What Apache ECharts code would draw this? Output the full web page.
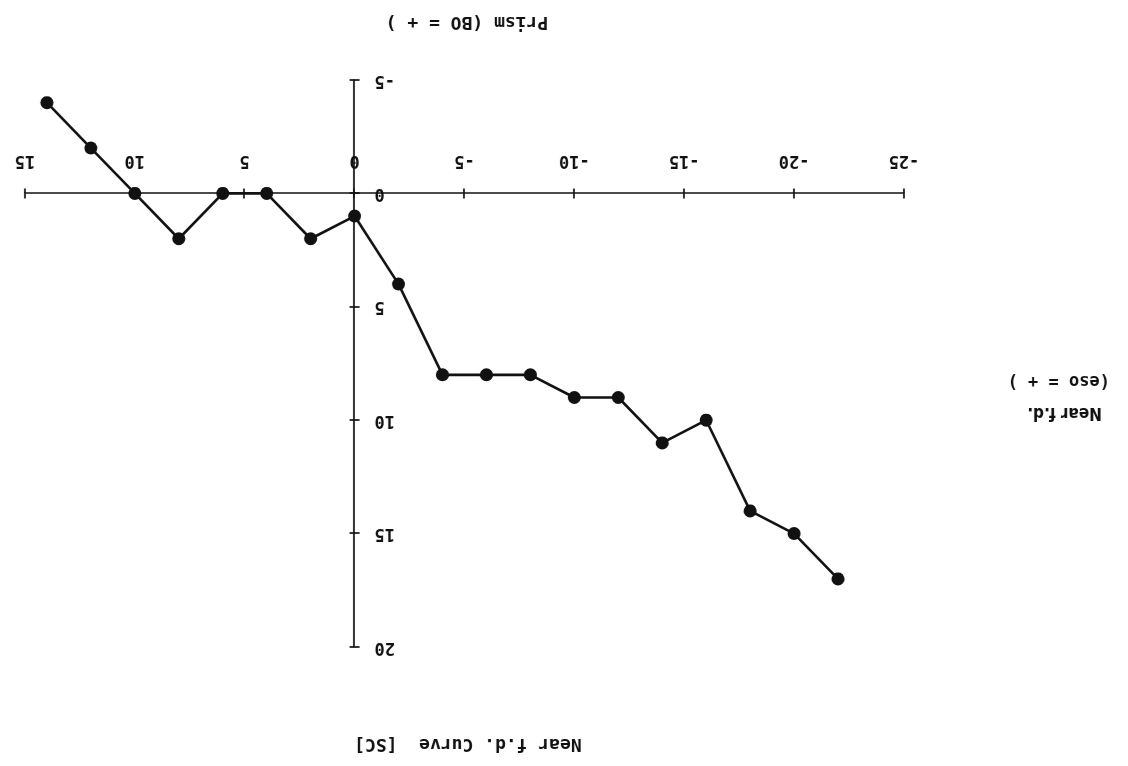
<!DOCTYPE html>
<html>
<head>
<meta charset="utf-8">
<script src="https://cdn.jsdelivr.net/npm/echarts@6/dist/echarts.min.js"></script>
<style>
  html, body { margin: 0; padding: 0; background: #fff; }
  #chart { width: 1128px; height: 766px; transform: rotate(180deg); transform-origin: 50% 50%; }
</style>
</head>
<body>
<div id="chart"></div>
<script>
// Data (the page is shown rotated 180°, as in the original scan)
const prismValues = [14, 12, 10, 8, 6, 4, 2, 0, -2, -4, -6, -8, -10, -12, -14, -16, -18, -20, -22];
const nearFdValues = [-4, -2, 0, 2, 0, 0, 2, 1, 4, 8, 8, 8, 9, 9, 11, 10, 14, 15, 17];
const xTicks = { min: -25, max: 15, interval: 5 };
const yTicks = { min: -5, max: 20, interval: 5 };
const titleText = 'Near f.d. Curve  [SC]';
const xAxisName = 'Prism (BO = + )';
const yAxisName1 = 'Near f.d.';
const yAxisName2 = '(eso = + )';

const points = prismValues.map((x, i) => [x, nearFdValues[i]]);
const W = 1128, H = 766;
const GRID = { left: 224, right: 25, top: 119, bottom: 80 };
const plotW = W - GRID.left - GRID.right;
const plotH = H - GRID.top - GRID.bottom;
// axes cross at the origin: shift each axis into the plot by where 0 falls
const yAxisShift = plotW * (0 - xTicks.min) / (xTicks.max - xTicks.min);
const xAxisShift = plotH * (0 - yTicks.min) / (yTicks.max - yTicks.min);

const MONO = '"DejaVu Sans Mono"';
const INK = '#111';
const tickStyle = { show: true, length: 5, lineStyle: { color: INK, width: 1.7 } };
const labelStyle = { color: INK, fontFamily: 'DejaVu Sans Mono', fontWeight: 'bold', fontSize: 17 };

const chart = echarts.init(document.getElementById('chart'));
chart.setOption({
  backgroundColor: '#fff',
  animation: false,
  grid: { left: GRID.left, right: GRID.right, top: GRID.top, bottom: GRID.bottom, containLabel: false },
  xAxis: [
    {
      type: 'value', min: xTicks.min, max: xTicks.max, interval: xTicks.interval,
      position: 'bottom', offset: -xAxisShift,
      axisLine: { onZero: false, lineStyle: { color: INK, width: 1.7 } },
      axisTick: tickStyle,
      axisLabel: Object.assign({ margin: 24 }, labelStyle),
      splitLine: { show: false }
    },
    {
      type: 'value', min: xTicks.min, max: xTicks.max, interval: xTicks.interval,
      position: 'top', offset: -(plotH - xAxisShift),
      axisLine: { onZero: false, show: false },
      axisTick: tickStyle,
      axisLabel: { show: false },
      splitLine: { show: false }
    }
  ],
  yAxis: [
    {
      type: 'value', min: yTicks.min, max: yTicks.max, interval: yTicks.interval,
      position: 'left', offset: -yAxisShift,
      axisLine: { onZero: false, lineStyle: { color: INK, width: 1.7 } },
      axisTick: tickStyle,
      axisLabel: Object.assign({ margin: 20 }, labelStyle),
      splitLine: { show: false }
    },
    {
      type: 'value', min: yTicks.min, max: yTicks.max, interval: yTicks.interval,
      position: 'right', offset: -(plotW - yAxisShift),
      axisLine: { onZero: false, show: false },
      axisTick: tickStyle,
      axisLabel: { show: false },
      splitLine: { show: false }
    }
  ],
  graphic: [
    { type: 'text', x: 660, y: 22,
      style: { text: titleText, font: 'bold 18px ' + MONO, fill: INK, textAlign: 'center', textVerticalAlign: 'middle' } },
    { type: 'text', x: 661, y: 744,
      style: { text: xAxisName, font: 'bold 18px ' + MONO, fill: INK, textAlign: 'center', textVerticalAlign: 'middle' } },
    { type: 'text', x: 26, y: 354,
      style: { text: yAxisName1, font: 'bold 17px "DejaVu Sans Condensed", "DejaVu Sans"', fill: INK, textAlign: 'left', textVerticalAlign: 'middle' } },
    { type: 'text', x: 18, y: 386,
      style: { text: yAxisName2, font: 'bold 17px ' + MONO, fill: INK, textAlign: 'left', textVerticalAlign: 'middle' } }
  ],
  series: [{
    type: 'line',
    xAxisIndex: 0, yAxisIndex: 0,
    data: points,
    symbol: 'circle',
    symbolSize: 13,
    itemStyle: { color: INK },
    lineStyle: { color: INK, width: 2.6 }
  }]
});
</script>
</body>
</html>
